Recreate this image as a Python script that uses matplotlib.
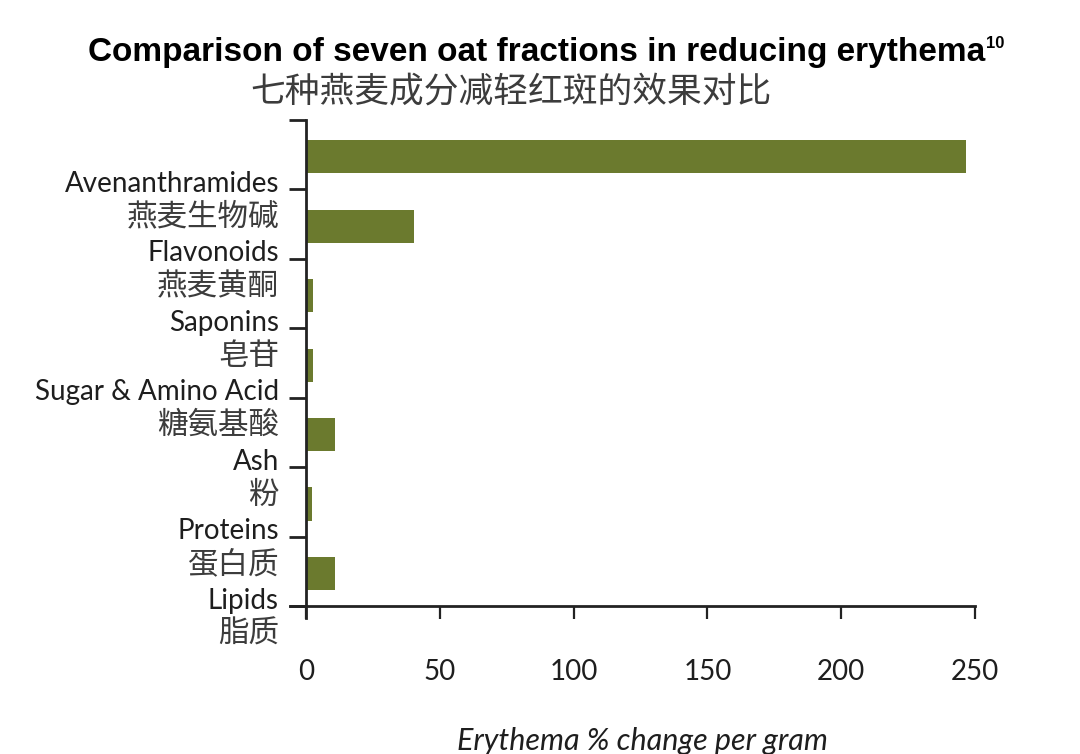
import matplotlib
matplotlib.use("Agg")
import matplotlib.pyplot as plt
from matplotlib import transforms

# ---- data ----
categories_en = ["Avenanthramides", "Flavonoids", "Saponins", "Sugar & Amino Acid",
                 "Ash", "Proteins", "Lipids"]
categories_zh = ["燕麦生物碱", "燕麦黄酮", "皂苷", "糖氨基酸", "粉", "蛋白质", "脂质"]
values = [246.5, 40.5, 2.7, 2.7, 10.8, 2.2, 10.8]
xticks = [0, 50, 100, 150, 200, 250]
title_en = "Comparison of seven oat fractions in reducing erythema"
title_sup = "10"
title_zh = "七种燕麦成分减轻红斑的效果对比"
xlabel = "Erythema % change per gram"

BAR = "#6b7a2e"
DARK = "#1e1e1e"
GRAY = "#3c3c3c"
EN_FONT = ["Lato", "DejaVu Sans"]
ZH_FONT = ["Noto Sans CJK SC", "DejaVu Sans"]

W, H = 1080, 754
fig = plt.figure(figsize=(W / 100, H / 100), dpi=100)
fig.patch.set_facecolor("white")

def fx(px):
    return px / W

def fy(py):
    return 1 - py / H

n = len(categories_en)
ax = fig.add_axes([fx(290), fy(618), fx(975) - fx(290), fy(120) - fy(618)])
ax.set_xlim(-6, 250)
ax.set_ylim(-0.17, n)

# bars: category i occupies the interval [n-1-i, n-i]
ypos = [n - 1 - i + 0.47 for i in range(n)]
ax.barh(ypos, values, height=0.48, color=BAR, edgecolor="none", zorder=2)

# spines
for s in ["top", "right"]:
    ax.spines[s].set_visible(False)
ax.spines["left"].set_position(("data", 0))
ax.spines["bottom"].set_position(("data", 0))
ax.spines["left"].set_bounds(-0.17, n)
for s in ["left", "bottom"]:
    ax.spines[s].set_color("#222222")
    ax.spines[s].set_linewidth(2.0)

# y ticks at interval boundaries
ax.set_yticks(list(range(n + 1)))
ax.set_yticklabels([])
ax.tick_params(axis="y", length=12, width=2.0, color="#222222", direction="out")

# x ticks
ax.set_xticks(xticks)
ax.set_xticklabels([str(v) for v in xticks], fontsize=20, family=EN_FONT, color=DARK)
ax.tick_params(axis="x", length=9, width=1.6, color="#222222", direction="out", pad=29)

trans = transforms.blended_transform_factory(fig.transFigure, ax.transData)
for k in range(n):
    yb = n - 1 - k
    ax.text(fx(279), yb + 0.08, categories_en[k], transform=trans, ha="right", va="center",
            fontsize=20, family=EN_FONT, color=DARK)
    ax.text(fx(279), yb - 0.40, categories_zh[k], transform=trans, ha="right", va="center",
            fontsize=22, family=ZH_FONT, color=GRAY)

# x label (partially clipped at bottom like the reference)
fig.text(fx(642), fy(741), xlabel, ha="center", va="center", fontsize=22,
         style="italic", family=EN_FONT, color=DARK)

# title
t = fig.text(fx(88), fy(52), title_en, ha="left", va="center", fontsize=24,
             fontweight="bold", family=["Liberation Sans", "DejaVu Sans"], color="black")
fig.canvas.draw()
bb = t.get_window_extent()
fig.text(bb.x1 / W + 0.001, fy(44), title_sup, ha="left", va="center", fontsize=12,
         fontweight="bold", family=["Liberation Sans", "DejaVu Sans"], color="black")
fig.text(fx(511), fy(92), title_zh, ha="center", va="center", fontsize=25,
         family=ZH_FONT, color=GRAY)

fig.savefig("out.png", dpi=100)
